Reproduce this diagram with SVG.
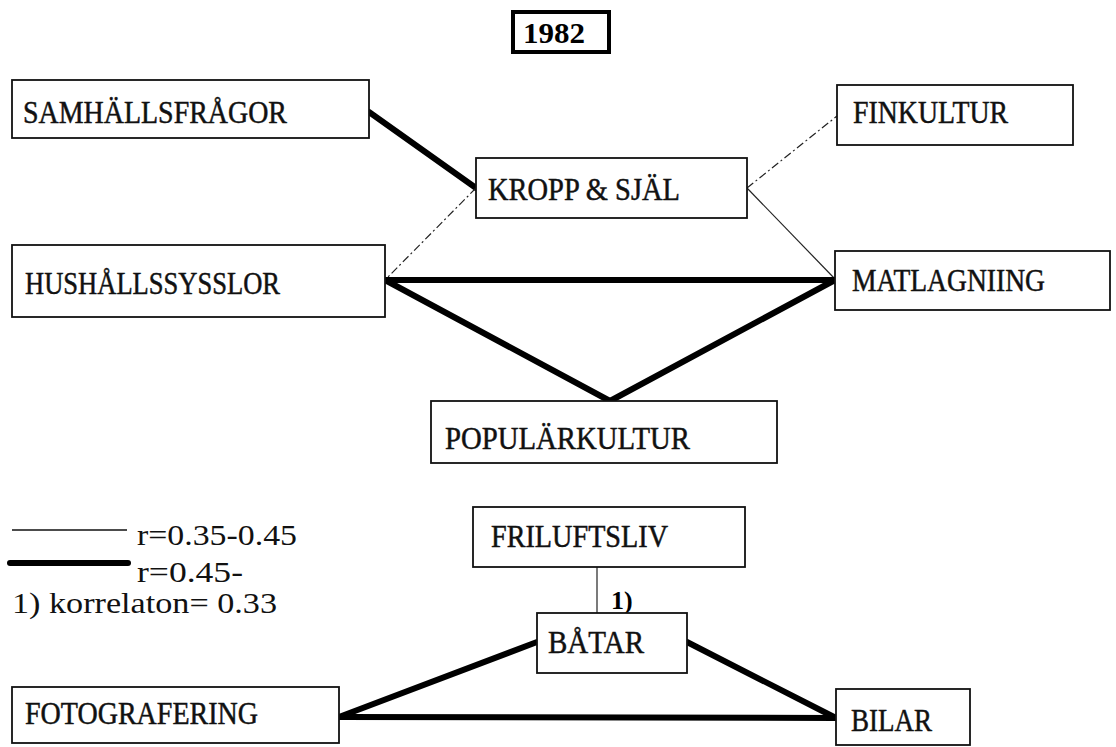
<svg xmlns="http://www.w3.org/2000/svg" width="1116" height="747" viewBox="0 0 1116 747">
<style>
.box{fill:#fff;stroke:#111;stroke-width:1.8}
.t{font-family:"Liberation Serif","Times New Roman",serif;font-size:32px;fill:#111;stroke:#111;stroke-width:0.5}
.lg{font-family:"Liberation Serif","Times New Roman",serif;font-size:30px;fill:#111}
.thick{stroke:#000;stroke-width:6;stroke-linecap:round;fill:none}
.thin{stroke:#222;stroke-width:1.2;fill:none}
.dash{stroke:#222;stroke-width:1.2;fill:none;stroke-dasharray:8 3 2 3}
</style>
<rect width="1116" height="747" fill="#fff"/>
<g id="connectors">
<line class="thick" x1="369" y1="112" x2="476" y2="188"/>
<line class="dash" x1="476" y1="188" x2="385" y2="280"/>
<line class="dash" x1="747" y1="188" x2="837" y2="116"/>
<line class="thin" x1="747" y1="188" x2="835" y2="279"/>
<line class="thick" x1="385" y1="280" x2="835" y2="280"/>
<line class="thick" x1="385" y1="280" x2="610" y2="401"/>
<line class="thick" x1="835" y1="280" x2="610" y2="401"/>
<line class="thin" x1="597" y1="567" x2="597" y2="613"/>
<line class="thick" x1="537" y1="642" x2="339" y2="717"/>
<line class="thick" x1="687" y1="642" x2="836" y2="718"/>
<line class="thick" x1="339" y1="717" x2="836" y2="718"/>
<text x="611" y="609" font-family="Liberation Serif, serif" font-size="26" font-weight="bold">1)</text>
</g>
<g id="title">
<rect x="513" y="12" width="96" height="40" fill="#fff" stroke="#000" stroke-width="4"/>
<text x="523" y="43" font-family="Liberation Serif, serif" font-size="29" font-weight="bold" textLength="62" lengthAdjust="spacingAndGlyphs">1982</text>
</g>
<g id="samhallsfragor">
<rect class="box" x="12" y="80" width="357" height="58"/>
<text class="t" x="23" y="123" textLength="264" lengthAdjust="spacingAndGlyphs">SAMHÄLLSFRÅGOR</text>
</g>
<g id="kropp">
<rect class="box" x="476" y="158" width="271" height="60"/>
<text class="t" x="488" y="200" textLength="192" lengthAdjust="spacingAndGlyphs">KROPP &amp; SJÄL</text>
</g>
<g id="finkultur">
<rect class="box" x="837" y="85" width="236" height="60"/>
<text class="t" x="853" y="123" textLength="155" lengthAdjust="spacingAndGlyphs">FINKULTUR</text>
</g>
<g id="hushallssysslor">
<rect class="box" x="12" y="245" width="373" height="72"/>
<text class="t" x="25" y="294" textLength="255" lengthAdjust="spacingAndGlyphs">HUSHÅLLSSYSSLOR</text>
</g>
<g id="matlagniing">
<rect class="box" x="835" y="251" width="275" height="59"/>
<text class="t" x="852" y="291" textLength="193" lengthAdjust="spacingAndGlyphs">MATLAGNIING</text>
</g>
<g id="popularkultur">
<rect class="box" x="431" y="401" width="346" height="62"/>
<text class="t" x="445" y="449" textLength="245" lengthAdjust="spacingAndGlyphs">POPULÄRKULTUR</text>
</g>
<g id="legend">
<line x1="12" y1="530" x2="127" y2="530" stroke="#111" stroke-width="1.5"/>
<text class="lg" x="137" y="545" textLength="160" lengthAdjust="spacingAndGlyphs">r=0.35-0.45</text>
<line x1="10" y1="563" x2="128" y2="563" stroke="#000" stroke-width="6" stroke-linecap="round"/>
<text class="lg" x="137" y="582" textLength="106" lengthAdjust="spacingAndGlyphs">r=0.45-</text>
<text class="lg" x="12" y="613" textLength="265" lengthAdjust="spacingAndGlyphs">1) korrelaton= 0.33</text>
</g>
<g id="friluftsliv">
<rect class="box" x="473" y="507" width="272" height="60"/>
<text class="t" x="491" y="547" textLength="177" lengthAdjust="spacingAndGlyphs">FRILUFTSLIV</text>
</g>
<g id="batar">
<rect class="box" x="537" y="613" width="150" height="60"/>
<text class="t" x="548" y="653" textLength="96" lengthAdjust="spacingAndGlyphs">BÅTAR</text>
</g>
<g id="fotografering">
<rect class="box" x="12" y="687" width="327" height="56"/>
<text class="t" x="25" y="724" textLength="233" lengthAdjust="spacingAndGlyphs">FOTOGRAFERING</text>
</g>
<g id="bilar">
<rect class="box" x="836" y="689" width="134" height="56"/>
<text class="t" x="851" y="731" textLength="81" lengthAdjust="spacingAndGlyphs">BILAR</text>
</g>
</svg>
